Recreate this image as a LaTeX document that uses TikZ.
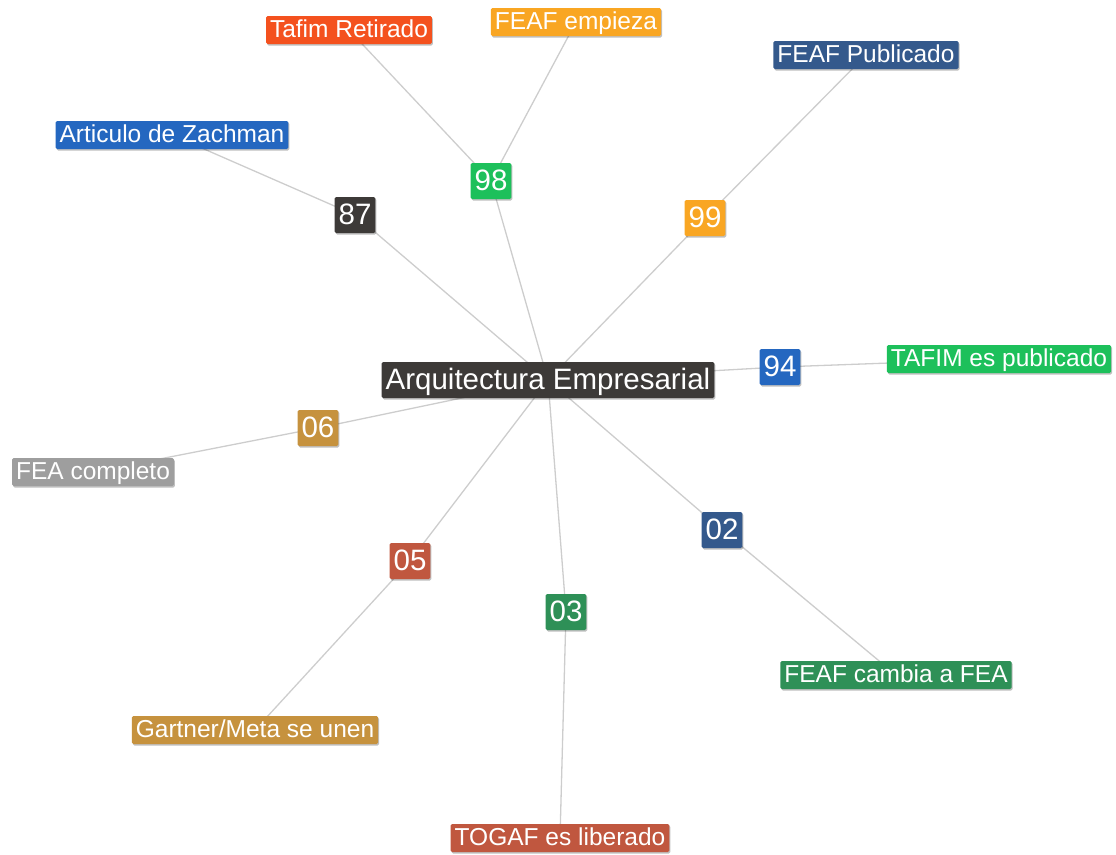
\documentclass[tikz,border=0pt]{standalone}
\usepackage{fontspec}
\setmainfont{Liberation Sans}
\usepackage{xcolor}
\usepackage{tikz}
\usetikzlibrary{shadows,backgrounds}
\definecolor{hubgray}{HTML}{3D3A38}
\definecolor{brgreen}{HTML}{1DC05B}
\definecolor{amber}{HTML}{F9A623}
\definecolor{azul}{HTML}{2467C0}
\definecolor{navy}{HTML}{34598C}
\definecolor{rojo}{HTML}{F4511E}
\definecolor{tan}{HTML}{C6923E}
\definecolor{rust}{HTML}{C0573F}
\definecolor{dkgreen}{HTML}{2E9057}
\definecolor{gris}{HTML}{9E9E9E}
\definecolor{edgegray}{HTML}{CDCDCD}

\begin{document}
\begin{tikzpicture}[x=1pt,y=-1pt,
    box/.style={text=white,rounded corners=1.5pt,inner xsep=4pt,inner ysep=0pt,
      drop shadow={shadow xshift=1pt,shadow yshift=-1.5pt,opacity=0.25,fill=black}},
    lbl/.style={box,font=\fontsize{24.5}{26}\selectfont,minimum height=28pt,text height=19pt,text depth=4pt},
    num/.style={box,font=\fontsize{29.5}{31}\selectfont,minimum height=36pt,text height=23pt,text depth=4.5pt},
    link/.style={draw=edgegray,line width=1.3pt}]
  \useasboundingbox (0,0) rectangle (1116,854);

  \node[num,fill=hubgray] (hub) at (548,380) {Arquitectura Empresarial};

  \node[num,fill=hubgray] (y87) at (355,215) {87};
  \node[num,fill=brgreen] (y98) at (491,181) {98};
  \node[num,fill=amber] (y99) at (705,218) {99};
  \node[num,fill=azul] (y94) at (780,367) {94};
  \node[num,fill=tan] (y06) at (318,428) {06};
  \node[num,fill=rust] (y05) at (410,561) {05};
  \node[num,fill=dkgreen] (y03) at (566,612) {03};
  \node[num,fill=navy] (y02) at (722,530) {02};

  \node[lbl,fill=azul] (zachman) at (172,135) {Articulo de Zachman};
  \node[lbl,fill=rojo] (tafimret) at (349,30) {Tafim Retirado};
  \node[lbl,fill=amber] (feafemp) at (576,22) {FEAF empieza};
  \node[lbl,fill=navy] (feafpub) at (866,55) {FEAF Publicado};
  \node[lbl,fill=brgreen] (tafimpub) at (999,359) {TAFIM es publicado};
  \node[lbl,fill=gris] (feacomp) at (93,472) {FEA completo};
  \node[lbl,fill=tan] (gartner) at (255,730) {Gartner/Meta se unen};
  \node[lbl,fill=rust] (togaf) at (560,838) {TOGAF es liberado};
  \node[lbl,fill=dkgreen] (feafcam) at (896,675) {FEAF cambia a FEA};

  \begin{scope}[on background layer]
    \draw[link] (hub.center) -- (y87.center) -- (zachman.center);
    \draw[link] (hub.center) -- (y98.center) -- (tafimret.center);
    \draw[link] (y98.center) -- (feafemp.center);
    \draw[link] (hub.center) -- (y99.center) -- (feafpub.center);
    \draw[link] (hub.center) -- (y94.center) -- (tafimpub.center);
    \draw[link] (hub.center) -- (y06.center) -- (feacomp.center);
    \draw[link] (hub.center) -- (y05.center) -- (gartner.center);
    \draw[link] (hub.center) -- (y03.center) -- (togaf.center);
    \draw[link] (hub.center) -- (y02.center) -- (feafcam.center);
  \end{scope}
\end{tikzpicture}
\end{document}
